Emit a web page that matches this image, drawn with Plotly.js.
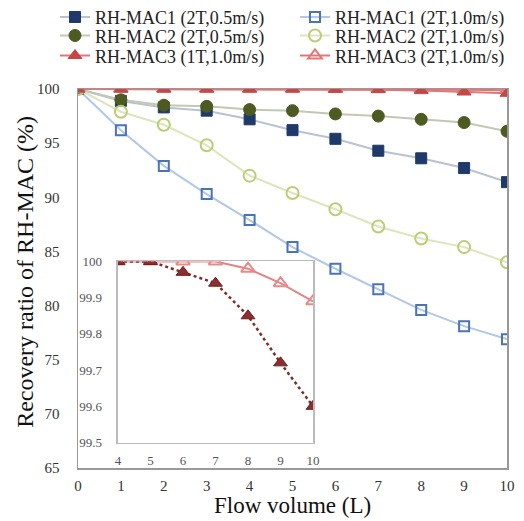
<!DOCTYPE html>
<html><head><meta charset="utf-8">
<script src="https://cdn.plot.ly/plotly-3.0.1.min.js"></script>
<style>html,body{margin:0;padding:0;background:#fff}</style>
</head><body>
<div id="chart" style="width:524px;height:521px"></div>
<script>
var flow = [0,1,2,3,4,5,6,7,8,9,10];
var mac1_05 = [100,98.9,98.3,98.0,97.2,96.2,95.4,94.3,93.6,92.7,91.4];
var mac1_10 = [100,96.2,92.9,90.3,87.9,85.4,83.4,81.5,79.6,78.1,76.9];
var mac2_05 = [100,99.0,98.5,98.4,98.1,98.0,97.7,97.5,97.2,96.9,96.1];
var mac2_10 = [100,97.9,96.7,94.8,92.0,90.4,88.9,87.3,86.2,85.4,84.0];
var mac3_1T = [100,100,100,100,100,100,99.97,99.94,99.85,99.72,99.6];
var mac3_2T = [100,100,100,100,100,100,100,100,99.98,99.94,99.89];
var insetFlow = [4,5,6,7,8,9,10];
var inset1T = mac3_1T.slice(4);
var inset2T = mac3_2T.slice(4);
var names = ['RH-MAC1 (2T,0.5m/s)','RH-MAC1 (2T,1.0m/s)','RH-MAC2 (2T,0.5m/s)','RH-MAC2 (2T,1.0m/s)','RH-MAC3 (1T,1.0m/s)','RH-MAC3 (2T,1.0m/s)'];
var xTicks = [0,1,2,3,4,5,6,7,8,9,10];
var yTicks = [65,70,75,80,85,90,95,100];
var insetYTicks = [99.5,99.6,99.7,99.8,99.9,100];
var insetXTicks = [4,5,6,7,8,9,10];
var xTitle = 'Flow volume (L)';
var yTitle = 'Recovery ratio of RH-MAC (%)';

var ms = 11;
var traces = [
 {x:flow,y:mac1_05,name:names[0],legend:'legend',mode:'lines+markers',line:{color:'#b9c2d0',width:2},
  marker:{symbol:'square',size:ms,color:'#1f3a68',line:{color:'#1f3a68',width:1}}},
 {x:flow,y:mac2_05,name:names[2],legend:'legend',mode:'lines+markers',line:{color:'#c2c8b4',width:2},
  marker:{symbol:'circle',size:ms+1,color:'#4d5a22',line:{color:'#4d5a22',width:1}}},
 {x:flow,y:mac1_10,name:names[1],legend:'legend2',mode:'lines+markers',line:{color:'#b3c7e6',width:2},
  marker:{symbol:'square-open',size:ms-1,color:'#4b74b6',line:{width:2}}},
 {x:flow,y:mac2_10,name:names[3],legend:'legend2',mode:'lines+markers',line:{color:'#dde5be',width:2},
  marker:{symbol:'circle-open',size:ms+1,color:'#bccd78',line:{width:2}}},
 {x:flow,y:mac3_2T,name:names[5],legend:'legend2',mode:'lines+markers',line:{color:'#e27676',width:2},
  marker:{symbol:'triangle-up-open',size:ms+1,color:'#e07878',line:{width:2}}},
 {x:flow,y:mac3_1T,name:names[4],legend:'legend',mode:'lines+markers',line:{color:'#e27676',width:2},
  marker:{symbol:'triangle-up',size:ms+1,color:'#c44848',line:{color:'#c44848',width:1}}},
 {x:insetFlow,y:inset2T,xaxis:'x2',yaxis:'y2',showlegend:false,mode:'lines+markers',
  line:{color:'#e38585',width:2},marker:{symbol:'triangle-up-open',size:ms+1,color:'#e68a8a',line:{width:2}}},
 {x:insetFlow,y:inset1T,xaxis:'x2',yaxis:'y2',showlegend:false,mode:'lines+markers',
  line:{color:'#7e2c2c',width:2.5,dash:'dot'},marker:{symbol:'triangle-up',size:ms+1,color:'#8e2e2e',line:{color:'#6a2020',width:1}}}
];

var serif = '"Liberation Serif", "Times New Roman", Times, serif';
var legFont = {family:serif,size:18,color:'#222'};
var layout = {
  width:524,height:521,
  margin:{l:78,r:17,t:81,b:53},
  paper_bgcolor:'#fff',plot_bgcolor:'#fff',
  showlegend:true,
  legend:{x:-0.058,y:1.204,xanchor:'left',yanchor:'top',font:legFont,bgcolor:'rgba(0,0,0,0)',
    itemwidth:30,tracegroupgap:0,traceorder:'normal'},
  legend2:{x:0.501,y:1.204,xanchor:'left',yanchor:'top',font:legFont,bgcolor:'rgba(0,0,0,0)',
    itemwidth:30,tracegroupgap:0,traceorder:'normal'},
  xaxis:{range:[0,10],tickvals:xTicks,showgrid:false,zeroline:false,showline:true,mirror:true,
    linecolor:'#999',linewidth:1.5,ticks:'',ticklabelstandoff:3,
    tickfont:{family:serif,size:15,color:'#333'}},
  yaxis:{range:[65,100],tickvals:yTicks,showgrid:false,zeroline:false,showline:true,mirror:true,
    linecolor:'#999',linewidth:1.5,ticks:'',ticklabelstandoff:14,
    tickfont:{family:serif,size:15,color:'#333'}},
  xaxis2:{domain:[0.0932,0.5478],anchor:'y2',range:[4,10],tickvals:insetXTicks,showgrid:false,zeroline:false,
    showline:true,mirror:true,linecolor:'#bbb',linewidth:1.5,ticks:'',ticklabelstandoff:5,
    tickfont:{family:serif,size:13,color:'#555'}},
  yaxis2:{domain:[0.0672,0.545],anchor:'x2',range:[99.5,100],tickvals:insetYTicks,showgrid:false,zeroline:false,
    showline:true,mirror:true,linecolor:'#bbb',linewidth:1.5,ticks:'',ticklabelstandoff:12,
    tickfont:{family:serif,size:13,color:'#555'}},
  annotations:[
    {text:xTitle,xref:'paper',yref:'paper',x:0.5,y:-0.098,xanchor:'center',yanchor:'middle',showarrow:false,
     font:{family:serif,size:23,color:'#111'},borderpad:0},
    {text:yTitle,xref:'paper',yref:'paper',x:-0.124,y:0.517,xanchor:'center',yanchor:'middle',showarrow:false,
     textangle:-90,font:{family:serif,size:24,color:'#111'}}
  ]
};
Plotly.newPlot('chart',traces,layout,{displayModeBar:false,staticPlot:true}).then(function(gd){
  var targets = {legend:[[75,17],[75,35.5],[75,54]], legend2:[[315,17],[315,35.5],[315,54]]};
  Object.keys(targets).forEach(function(id){
    var leg = gd.querySelector('g.'+id);
    if(!leg) return;
    var items = leg.querySelectorAll('g.traces');
    items.forEach(function(it,i){
      var t = targets[id][i]; if(!t) return;
      var mk = it.querySelector('path.scatterpts') || it;
      var r = mk.getBoundingClientRect();
      var cx = r.left + r.width/2, cy = r.top + r.height/2;
      var tr = (it.getAttribute('transform')||'translate(0,0)').match(/translate\(\s*([-\d.e]+)[ ,]+([-\d.e]+)/);
      var a = tr?parseFloat(tr[1]):0, b = tr?parseFloat(tr[2]):0;
      it.setAttribute('transform','translate('+(a+t[0]-cx)+','+(b+t[1]-cy)+')');
    });
    var clip = leg.querySelector('.scrollbox');
    if(clip) clip.removeAttribute('clip-path');
  });
});
</script>
</body></html>
